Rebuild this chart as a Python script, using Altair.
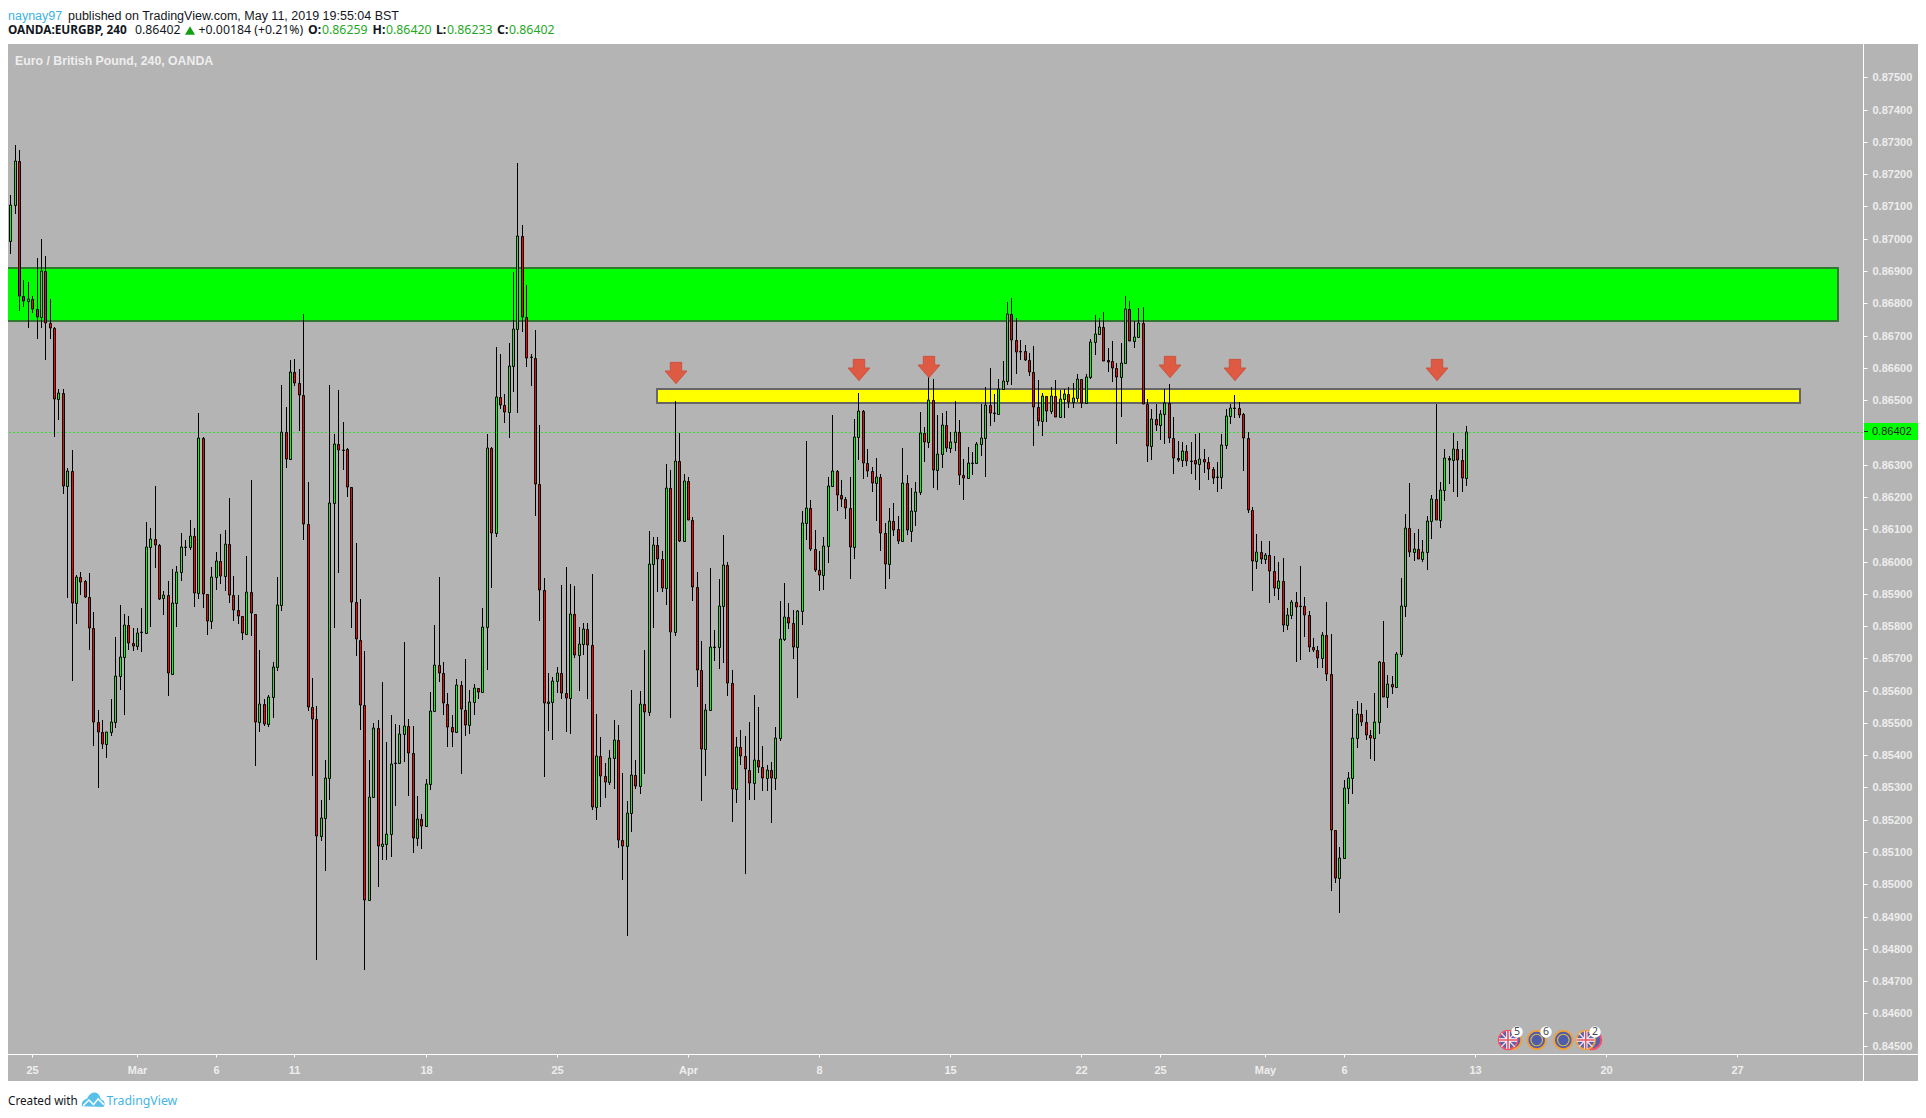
import json
import altair as alt
import pandas as pd

# open, high, low, close in units of 0.00001
feb_bars = [
(86992,87134,86954,87105),(87105,87291,87076,87241),(87241,87274,86776,86822),(86822,86872,86789,86806),
(86806,86867,86723,86814),(86814,86822,86769,86781),(86781,86939,86690,86759),(86759,86998,86723,86899),
(86899,86945,86625,86738),(86738,86814,86688,86723),(86723,86728,86387,86502),(86502,86534,86439,86522),
(86522,86535,86208,86233),(86233,86291,85888,86280),(86280,86344,85631,85873),(85873,85959,85805,85953),
(85951,85968,85896,85938),(85939,85943,85888,85891),(85891,85964,85727,85793),(85793,85843,85428,85504),
(85504,85539,85297,85473),(85473,85508,85420,85436),(85436,85473,85390,85473),(85473,85574,85458,85503),
(85503,85767,85483,85644),(85644,85865,85602,85705),(85705,85836,85523,85802),(85802,85830,85727,85747),
(85747,85793,85722,85737),
]
mar_bars = [
(85737,85793,85727,85780),(85782,85855,85719,85782),(85780,86122,85780,86046),(86046,86104,85798,86069),
(86069,86233,85979,86052),(86052,86055,85881,85885),(85888,85909,85835,85896),(85896,85939,85584,85655),
(85652,85976,85652,85871),(85871,85986,85797,85967),(85967,86089,85941,86046),(86046,86067,86017,86046),
(86046,86130,86037,86080),(86080,86105,85860,85901),(85901,86459,85885,86382),(86382,86387,85856,85898),
(85898,85898,85773,85815),(85815,85982,85790,85951),(85951,86029,85913,86002),(86002,86084,85931,85956),
(85956,86099,85909,86055),(86055,86197,85870,85896),(85896,85954,85815,85851),(85851,85896,85806,85830),
(85830,85830,85757,85777),(85775,86017,85772,85906),(85906,86253,85768,85840),(85838,85838,85367,85504),
(85504,85725,85473,85559),(85559,85574,85489,85498),(85498,85586,85486,85581),(85581,85689,85514,85672),
(85672,85951,85660,85866),(85866,86547,85848,86402),(86402,86479,86291,86319),(86319,86623,86319,86588),
(86588,86628,86545,86553),(86553,86595,86404,86517),(86517,86768,86067,86117),(86117,86246,85536,85548),
(85548,85639,85337,85511),(85511,85551,84767,85151),(85151,85260,85133,85204),(85204,85385,85041,85330),
(85330,86547,85262,86180),(86180,86396,85793,86363),(86363,86530,85963,86344),(86346,86432,86283,86346),
(86348,86351,86200,86230),(86230,86230,85793,85876),(85876,86057,85707,85760),(85758,85885,85478,85556),
(85556,85722,84735,84950),(84950,85385,84950,85272),(85272,85499,85270,85483),(85483,85508,84993,85118),
(85118,85627,85076,85126),(85126,85441,85076,85157),(85157,85526,85086,85373),(85377,85496,85244,85377),
(85377,85493,85377,85465),(85465,85750,85378,85491),(85491,85511,85274,85408),(85408,85489,85096,85143),
(85143,85275,85118,85201),(85201,85217,85109,85182),(85182,85325,85182,85312),(85312,85596,85292,85538),
(85538,85803,85538,85680),(85680,85953,85626,85655),(85655,85689,85524,85561),(85559,85594,85426,85486),
(85486,85524,85425,85473),(85473,85637,85470,85616),(85616,85631,85342,85543),(85541,85697,85458,85493),
(85493,85601,85466,85566),(85566,85622,85526,85609),(85609,85609,85574,85597),(85597,85855,85597,85798),
(85798,86396,85664,86353),(86353,86355,85918,86087),(86087,86663,86075,86510),(86510,86643,86472,86485),
(86485,86519,86429,86462),(86462,86676,86382,86605),(86605,86897,86525,86721),(86721,87234,86460,87008),
(87008,87043,86711,86759),(86759,86856,86603,86632),(86633,86643,86544,86633),(86632,86716,86140,86241),
(86241,86422,85815,85913),(85913,85948,85332,85561),(85561,85654,85474,85566),(85566,85642,85448,85631),
(85631,85672,85594,85655),(85655,85926,85574,85594),(85594,85984,85473,85576),(85576,85931,85465,85838),
(85838,85923,85700,85709),(85709,85798,85599,85743),(85743,85811,85709,85790),(85790,85808,85574,85740),
(85741,85961,85229,85238),(85238,85528,85198,85396),(85396,85457,85241,85334),(85334,85375,85268,85316),
(85316,85415,85309,85390),(85390,85510,85295,85447),(85447,85493,85114,85137),(85137,85344,85012,85118),
(85118,85257,84841,85220),(85220,85602,85162,85338),(85338,85386,85295,85303),(85303,85600,85279,85560),
(85560,85726,85342,85533),(85533,86095,85520,85991),(85991,86076,85794,86050),(86050,86076,85904,86009),
(86009,86034,85904,85917),(85917,86302,85866,86227),(86227,86283,85516,85783),(85783,86497,85769,86310),
(86310,86398,86061,86065),(86065,86271,86065,86248),
]
apr_bars = [
(86248,86263,86130,86130),(86130,86137,85879,85922),(85922,85967,85612,85663),(85663,85754,85257,85418),
(85418,85558,85334,85541),(85541,85979,85541,85734),(85734,85788,85692,85734),(85734,85945,85667,85861),
(85861,86082,85687,85988),(85988,86000,85584,85625),(85625,85663,85194,85294),(85294,85457,85251,85424),
(85424,85478,85370,85396),(85396,85459,85031,85357),(85355,85502,85260,85315),(85315,85586,85260,85385),
(85385,85549,85346,85364),(85364,85428,85290,85330),(85330,85369,85290,85355),(85355,85380,85189,85328),
(85328,85487,85292,85452),(85452,85878,85443,85761),(85761,85933,85754,85827),(85827,85871,85792,85809),
(85809,85850,85699,85734),(85734,85850,85576,85847),(85847,86158,85804,86118),(86118,86373,86067,86167),
(86167,86190,86032,86039),(86040,86098,85966,85975),(85975,86032,85910,85957),(85957,86076,85913,86047),
(86047,86262,85996,86233),(86233,86455,86230,86280),(86280,86282,86155,86205),(86205,86253,86170,86195),
(86195,86201,86132,86167),(86167,86262,85945,86046),(86046,86441,86009,86387),(86387,86522,86315,86465),
(86465,86468,86257,86304),(86304,86348,86262,86280),(86280,86292,86214,86242),(86242,86320,86124,86261),
(86261,86271,86033,86089),(86089,86118,85916,85991),(85991,86165,85947,86124),(86124,86180,86079,86099),
(86100,86140,86055,86065),(86065,86352,86062,86242),(86242,86267,86082,86097),(86096,86227,86061,86158),
(86158,86245,86110,86214),(86214,86463,86207,86397),(86397,86416,86309,86369),(86369,86575,86351,86499),
(86499,86565,86228,86282),(86282,86454,86222,86332),(86332,86459,86291,86422),(86422,86466,86339,86353),
(86353,86401,86337,86369),(86369,86497,86342,86401),(86402,86438,86238,86269),(86269,86317,86192,86260),
(86260,86355,86260,86305),(86305,86338,86269,86306),(86306,86370,86306,86364),(86364,86488,86327,86382),
(86382,86540,86263,86484),(86484,86601,86421,86461),(86460,86519,86433,86460),(86458,86565,86456,86535),
(86535,86621,86535,86558),(86558,86805,86547,86766),(86766,86815,86548,86685),(86685,86753,86582,86648),
(86651,86686,86624,86648),(86651,86671,86620,86623),(86623,86645,86576,86588),(86588,86668,86359,86480),
(86480,86562,86420,86436),(86436,86521,86390,86512),(86512,86512,86433,86467),(86467,86540,86458,86512),
(86512,86562,86449,86449),(86449,86531,86449,86502),(86502,86534,86446,86518),(86518,86540,86475,86493),
(86493,86552,86475,86505),(86505,86581,86495,86564),(86564,86564,86475,86492),(86492,86580,86488,86573),
(86573,86688,86566,86679),(86679,86763,86641,86704),(86704,86753,86704,86728),(86728,86772,86622,86622),
(86623,86660,86588,86619),(86620,86683,86557,86598),(86598,86614,86364,86573),(86573,86676,86449,86616),
(86616,86822,86616,86781),(86781,86806,86682,86682),(86682,86744,86661,86697),(86697,86784,86697,86738),
(86738,86787,86487,86487),(86487,86502,86309,86357),(86357,86471,86314,86442),(86442,86487,86405,86422),
(86422,86468,86376,86458),(86458,86534,86365,86492),(86492,86549,86368,86382),(86382,86448,86272,86322),
(86322,86374,86309,86315),(86315,86369,86294,86341),(86341,86360,86296,86310),(86311,86370,86270,86311),
(86313,86395,86253,86301),(86301,86399,86223,86319),(86319,86347,86274,86307),(86307,86323,86254,86288),
(86288,86292,86241,86260),(86262,86309,86214,86262),(86262,86395,86225,86360),(86360,86474,86349,86452),
(86452,86487,86425,86477),(86477,86516,86446,86477),(86477,86494,86446,86455),(86456,86460,86280,86382),
]
may_bars = [
(86382,86400,86151,86161),(86161,86168,85910,86002),(86002,86086,85978,86031),(86031,86064,85992,86009),
(86009,86027,85992,86019),(86019,86064,85872,85972),(85972,86017,85893,85919),(85919,85998,85881,85941),
(85941,86011,85782,85802),(85802,85855,85787,85833),(85833,85881,85822,85876),(85876,85905,85689,85860),
(85861,85985,85696,85861),(85861,85890,85766,85833),(85833,85847,85719,85734),(85734,85762,85721,85726),
(85727,85738,85669,85700),(85700,85782,85669,85772),(85772,85876,85631,85650),(85650,85775,84978,85167),
(85167,85167,85005,85021),(85021,85116,84910,85083),(85083,85323,85079,85297),(85297,85347,85249,85328),
(85328,85542,85281,85452),(85452,85568,85422,85529),(85529,85562,85490,85503),(85504,85540,85448,85463),
(85464,85477,85388,85452),(85452,85592,85383,85502),(85502,85692,85466,85688),(85688,85816,85579,85580),
(85580,85649,85545,85619),(85619,85645,85590,85610),(85610,85719,85610,85713),(85713,85949,85704,85861),
(85861,86148,85829,86103),(86103,86244,86014,86031),(86031,86088,86002,86040),(86040,86100,86009,86009),
(86009,86066,85998,86031),(86031,86141,85975,86127),(86127,86206,86071,86193),(86193,86487,86130,86130),
(86130,86246,86105,86220),(86220,86350,86186,86322),(86322,86327,86240,86315),(86315,86399,86214,86347),
(86347,86374,86201,86313),(86313,86347,86214,86260),(86259,86420,86233,86402),
]
tick_positions = [5, 29, 47, 65, 95, 125, 155, 185, 215, 245, 263, 287, 305, 335, 365, 395]
tick_labels = ["25", "Mar", "6", "11", "18", "25", "Apr", "8", "15", "22", "25", "May", "6", "13", "20", "27"]
# 0.86400 is hidden behind the last-price tag in the reference
price_ticks = [round(0.845 + 0.001 * k, 3) for k in range(31) if k != 19]
last_price = 0.86402
green_zone = (0.86746, 0.86910)
yellow_zone = (0.86491, 0.86534)
arrow_bars = [152.2, 194.2, 210.2, 265.3, 280.2, 326.4]
arrow_prices = [0.86585, 0.86592, 0.86603, 0.86604, 0.86593, 0.86593]

bars = feb_bars + mar_bars + apr_bars + may_bars
df = pd.DataFrame(bars, columns=["o", "h", "l", "c"]) / 100000
df["i"] = range(len(df))
df["col"] = ["#00ff00" if c >= o else "#ff0000" for o, c in zip(df.o, df.c)]

GREY = "#b4b4b4"
AXC = "#eeeeee"
UI = "Noto Sans"
one = pd.DataFrame({"n": [0]})
xs = alt.Scale(domain=[-0.526, 423.78], nice=False, zero=False, round=True, padding=0)
ys = alt.Scale(domain=[0.844743, 0.876032], nice=False, zero=False, round=True, padding=0)
x_axis = alt.Axis(values=tick_positions, labelExpr=f"{json.dumps(tick_labels)}[indexof({json.dumps(tick_positions)}, datum.value)]",
                  grid=False, domain=False, tickColor="white", tickSize=3, labelColor=AXC, labelFont="Liberation Sans",
                  labelFontWeight="bold", labelFontSize=11, labelPadding=7, title=None, zindex=1, labelOverlap=False)
y_axis = alt.Axis(values=price_ticks, format=".5f", orient="right", grid=False, domain=False, tickColor="white", tickSize=4,
                  labelColor=AXC, labelFont="Liberation Sans", labelFontWeight="bold", labelFontSize=11, labelPadding=5,
                  title=None, zindex=1, labelOverlap=False)


def XF(f):
    return alt.X(f, scale=xs, axis=x_axis)


def YF(f):
    return alt.Y(f, scale=ys, axis=y_axis)


def px(v):
    return alt.value(v - 8)


def py(v):
    return alt.value(v - 44)


def label(txt, x, y, color="#131722", size=12.3, weight="normal", font=UI, align="left"):
    return alt.Chart(one).mark_text(text=txt, align=align, baseline="middle", color=color, font=font,
                                    fontSize=size, fontWeight=weight).encode(x=px(x), y=py(y))


def hline(x1, x2, y, color="white"):
    return alt.Chart(one).mark_rule(color=color, strokeWidth=1).encode(x=px(x1), x2=px(x2), y=py(y))


def vline(x, y1, y2, color="white"):
    return alt.Chart(one).mark_rule(color=color, strokeWidth=1).encode(x=px(x), y=py(y1), y2=py(y2))


def dot(x, y, r, fill, stroke=None, sw=2, shape="circle"):
    kw = dict(filled=True, fill=fill, shape=shape, opacity=1)
    if stroke:
        kw.update(stroke=stroke, strokeWidth=sw)
    else:
        kw.update(strokeWidth=0)
    size = 3.14159 * r * r if shape == "circle" else (2 * r) ** 2
    return alt.Chart(one).mark_point(size=size, **kw).encode(x=px(x), y=py(y))


def union_flag(x, y):
    path_w = "M-1,-0.2 L-0.2,-0.2 L-0.2,-1 L0.2,-1 L0.2,-0.2 L1,-0.2 L1,0.2 L0.2,0.2 L0.2,1 L-0.2,1 L-0.2,0.2 L-1,0.2 Z"
    path_d = "M-0.7,-0.8 L0,-0.1 L0.7,-0.8 L0.8,-0.7 L0.1,0 L0.8,0.7 L0.7,0.8 L0,0.1 L-0.7,0.8 L-0.8,0.7 L-0.1,0 L-0.8,-0.7 Z"
    path_r = "M-1,-0.09 L-0.09,-0.09 L-0.09,-1 L0.09,-1 L0.09,-0.09 L1,-0.09 L1,0.09 L0.09,0.09 L0.09,1 L-0.09,1 L-0.09,0.09 L-1,0.09 Z"
    return [dot(x, y, 9, "#5a60a8"), dot(x, y, 9, "#f4dfe6", shape=path_d),
            dot(x, y, 9, "#ffffff", shape=path_w), dot(x, y, 9, "#e8505f", shape=path_r)]


layers = []
# panel
layers.append(alt.Chart(one).mark_rect(color=GREY).encode(x=px(8), x2=px(1919), y=py(44), y2=py(1081)))

# zones
gz = pd.DataFrame({"a": [-3], "b": [418], "y": [green_zone[0]], "y2": [green_zone[1]]})
layers.append(alt.Chart(gz).mark_rect(color="#00ff00", stroke="#2f7a2f", strokeWidth=2, clip=True).encode(
    x=XF("a:Q"), x2="b:Q", y=YF("y:Q"), y2="y2:Q"))
yz = pd.DataFrame({"a": [148], "b": [409.3], "y": [yellow_zone[0]], "y2": [yellow_zone[1]]})
layers.append(alt.Chart(yz).mark_rect(color="#ffff00", stroke="#666666", strokeWidth=2).encode(
    x=XF("a:Q"), x2="b:Q", y=YF("y:Q"), y2="y2:Q"))

# last price line
layers.append(alt.Chart(pd.DataFrame({"y": [last_price]})).mark_rule(
    color="#33dd33", strokeWidth=1, strokeDash=[2, 2], yOffset=0.5).encode(y=YF("y:Q")))

# candles
layers.append(alt.Chart(df).mark_rule(color="black", strokeWidth=1, xOffset=0.5).encode(
    x=XF("i:Q"), y=YF("l:Q"), y2="h:Q"))
layers.append(alt.Chart(df).mark_bar(size=2, stroke="black", strokeWidth=1, xOffset=0.5, yOffset=0.5).encode(
    x=XF("i:Q"), y=YF("o:Q"), y2="c:Q", fill=alt.Fill("col:N", scale=None, legend=None)))

# arrows
arrow = "M-0.52,-0.97 L0.52,-0.97 L0.52,-0.18 L1,-0.18 L0,0.97 L-1,-0.18 L-0.52,-0.18 Z"
adf = pd.DataFrame({"i": arrow_bars, "y": arrow_prices})
layers.append(alt.Chart(adf).mark_point(shape=arrow, size=480, filled=True, fill="#df5a42", stroke="#c8543f",
                                        strokeWidth=1, opacity=1).encode(x=XF("i:Q"), y=YF("y:Q")))

# frame lines
layers += [vline(1863.5, 44, 1081), hline(8, 1919, 1054.5)]

# last price tag
layers.append(alt.Chart(one).mark_rect(color="#00ff00").encode(x=px(1864), x2=px(1919), y=py(423), y2=py(440)))
layers.append(hline(1864, 1868, 431.5, "#222222"))
layers.append(label("0.86402", 1872, 431.5, "#222222", 11, "normal", "Liberation Sans"))

# event badges
layers.append(dot(1512, 1040, 10.5, "#5a60a8", "#f0a03c"))
layers.append(dot(1508, 1040, 10.5, "#5a60a8", "#f0536a"))
layers += union_flag(1508, 1040)
for ex in (1536.7, 1563.3):
    layers.append(dot(ex, 1040, 10.5, "#4f5cab", "#f0a03c"))
    layers.append(dot(ex, 1040, 6.5, "none", "#d8b84a", 1.2))
layers.append(dot(1592, 1040, 10.5, "#5a60a8", "#f0536a"))
layers.append(dot(1585.7, 1040, 10.5, "#5a60a8", "#f0a03c"))
layers += union_flag(1585.7, 1040)
for bx, txt in ((1517, "5"), (1546, "6"), (1595, "2")):
    layers.append(dot(bx, 1032, 6.5, "white"))
    layers.append(label(txt, bx, 1032, "#444444", 10.5, align="center"))

# header
layers += [
    label("naynay97", 8, 15.8, "#3bb3e4", 12.5, font="Liberation Sans"),
    label("published on TradingView.com, May 11, 2019 19:55:04 BST", 68, 15.8, "#131722", 12.5, font="Liberation Sans"),
    label("OANDA:EURGBP, 240", 8, 30, "#131722", 11.8, "bold"),
    label("0.86402", 135, 30),
    dot(190, 30.5, 5, "#12a012", shape="triangle-up"),
    label("+0.00184 (+0.21%)", 198.5, 30),
    label("O:", 308, 30, weight="bold"),
    label("0.86259", 322, 30, "#1fa81f"),
    label("H:", 372.5, 30, weight="bold"),
    label("0.86420", 386, 30, "#1fa81f"),
    label("L:", 436, 30, weight="bold"),
    label("0.86233", 447, 30, "#1fa81f"),
    label("C:", 497, 30, weight="bold"),
    label("0.86402", 509, 30, "#1fa81f"),
    label("Euro / British Pound, 240, OANDA", 15, 60.5, "#eeeeee", 12.3, "bold", "Liberation Sans"),
]

# footer
cloud = "M-1,0.55 C-1.1,0.1 -0.7,-0.1 -0.55,-0.1 C-0.4,-0.6 0,-0.7 0.15,-0.65 C0.5,-0.6 0.6,-0.2 0.65,-0.05 C1,0 1.05,0.4 0.85,0.6 Z"
zig = "M-0.9,0.5 L-0.4,0 L0,0.4 L0.4,-0.1 L0.9,0.4"
layers += [
    label("Created with", 8, 1100.5, "#131722", 11.7),
    dot(93.5, 1100, 11.5, "#59c0ea", shape=cloud),
    alt.Chart(one).mark_point(shape=zig, size=529, filled=False, stroke="white", strokeWidth=1.5, opacity=1).encode(x=px(93.5), y=py(1100)),
    label("TradingView", 106.5, 1100.5, "#45b5e6", 12.3),
]

chart = alt.layer(*layers).properties(
    width=1855, height=1010,
    autosize=alt.AutoSizeParams(type="none"),
    padding={"left": 0, "top": 36, "right": 55, "bottom": 54},
    background="white",
).configure_view(stroke=None)
chart.save("out.html", embed_options={"renderer": "svg", "actions": False})
